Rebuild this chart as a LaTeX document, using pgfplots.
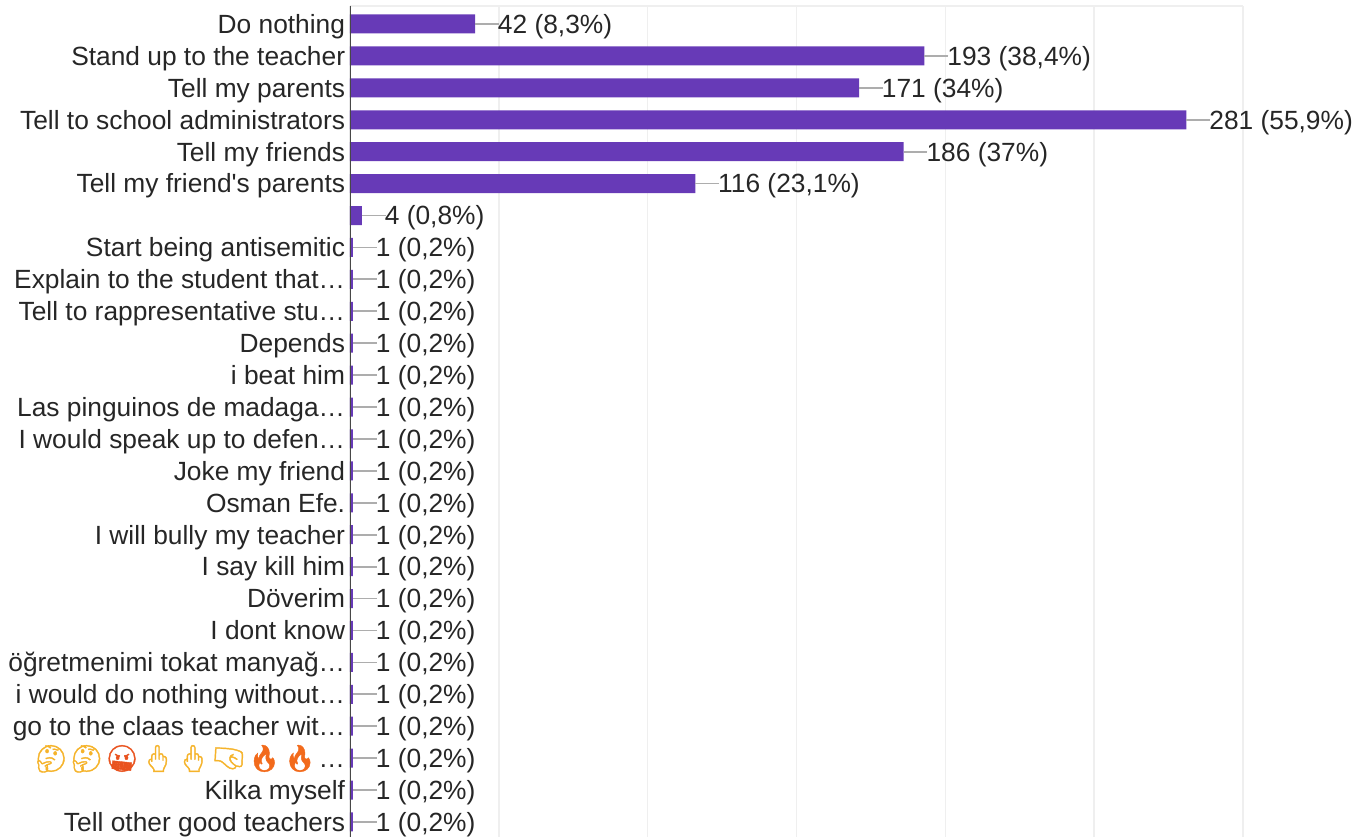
\documentclass[border=0pt]{standalone}
\usepackage{pgfplots}
\pgfplotsset{compat=1.18}
\usepackage{fontspec}
\setmainfont[Ligatures=TeXOff]{Liberation Sans}
\newfontfamily\emojifont[FakeBold=1.5]{Noto Emoji}
\definecolor{barc}{HTML}{673AB7}
\definecolor{txt}{HTML}{262626}
\definecolor{gridc}{HTML}{EFEFEF}
\definecolor{lead}{HTML}{ADADAD}
\definecolor{emy}{HTML}{F5B32A}
\definecolor{emr}{HTML}{E9531F}
\definecolor{emf}{HTML}{F26A1B}
\begin{document}
\begin{tikzpicture}[x=1pt,y=1pt]
\useasboundingbox (0,0) rectangle (1015.5,627.75);
\begin{axis}[
  at={(262.5pt,0pt)}, anchor=south west,
  scale only axis, width=669.75pt, height=623.25pt,
  xmin=0, xmax=300, ymin=-0.564, ymax=25.47, y dir=reverse,
  xbar, bar width=14.25pt,
  axis line style={draw=none},
  xtick={50,100,150,200,250,300}, xticklabels={},
  xmajorgrids, grid style={gridc, line width=1.2pt},
  ytick={0,...,25}, major tick length=0pt,
  yticklabels={Do nothing,Stand up to the teacher,Tell my parents,Tell to school administrators,Tell my friends,Tell my friend's parents,{},Start being antisemitic,Explain to the student that…,Tell to rappresentative stu…,Depends,i beat him,Las pinguinos de madaga…,I would speak up to defen…,Joke my friend,Osman Efe.,I will bully my teacher,I say kill him,Döverim,I dont know,öğretmenimi tokat manyağ…,i would do nothing without…,go to the claas teacher wit…,{{\emojifont\textcolor{emy}{🤔}\hspace{1.6pt}\textcolor{emy}{🤔}\hspace{1.6pt}\textcolor{emr}{🤬}\hspace{1.6pt}\textcolor{emy}{🖕}\hspace{1.6pt}\textcolor{emy}{🖕}\hspace{1.6pt}\textcolor{emy}{🤜}\hspace{1.6pt}\textcolor{emf}{🔥}\hspace{1.6pt}\textcolor{emf}{🔥}}\hspace{1.6pt}…},Kilka myself,Tell other good teachers},
  yticklabel style={font=\fontsize{19.75}{19.75}\selectfont, text=txt, anchor=east, inner sep=0pt, xshift=-3.5pt, text height=15.5pt, text depth=1.5pt},
  point meta=explicit symbolic,
  nodes near coords,
  every node near coord/.append style={font=\fontsize{19.75}{19.75}\selectfont, text=txt, anchor=west, inner sep=0pt, xshift=17pt, text height=15.5pt, text depth=1.5pt},
]
\addplot[fill=barc, draw=none,
  error bars/.cd, x dir=plus, x explicit, error mark=none,
  error bar style={lead, line width=1.3pt}]
coordinates {
 (42,0) +- (8,0) [42 (8,3\%)]
 (193,1) +- (8,0) [193 (38,4\%)]
 (171,2) +- (8,0) [171 (34\%)]
 (281,3) +- (8,0) [281 (55,9\%)]
 (186,4) +- (8,0) [186 (37\%)]
 (116,5) +- (8,0) [116 (23,1\%)]
 (4,6) +- (8,0) [4 (0,8\%)]
 (1,7) +- (8,0) [1 (0,2\%)]
 (1,8) +- (8,0) [1 (0,2\%)]
 (1,9) +- (8,0) [1 (0,2\%)]
 (1,10) +- (8,0) [1 (0,2\%)]
 (1,11) +- (8,0) [1 (0,2\%)]
 (1,12) +- (8,0) [1 (0,2\%)]
 (1,13) +- (8,0) [1 (0,2\%)]
 (1,14) +- (8,0) [1 (0,2\%)]
 (1,15) +- (8,0) [1 (0,2\%)]
 (1,16) +- (8,0) [1 (0,2\%)]
 (1,17) +- (8,0) [1 (0,2\%)]
 (1,18) +- (8,0) [1 (0,2\%)]
 (1,19) +- (8,0) [1 (0,2\%)]
 (1,20) +- (8,0) [1 (0,2\%)]
 (1,21) +- (8,0) [1 (0,2\%)]
 (1,22) +- (8,0) [1 (0,2\%)]
 (1,23) +- (8,0) [1 (0,2\%)]
 (1,24) +- (8,0) [1 (0,2\%)]
 (1,25) +- (8,0) [1 (0,2\%)]
};
\draw[gridc, line width=2pt] (rel axis cs:0,1) -- (rel axis cs:1,1);
\draw[gridc, line width=2pt] (rel axis cs:1,1) -- (rel axis cs:1,0);
\draw[txt!85, line width=1.5pt] (rel axis cs:0,1) -- (rel axis cs:0,0);
\end{axis}
\end{tikzpicture}
\end{document}
